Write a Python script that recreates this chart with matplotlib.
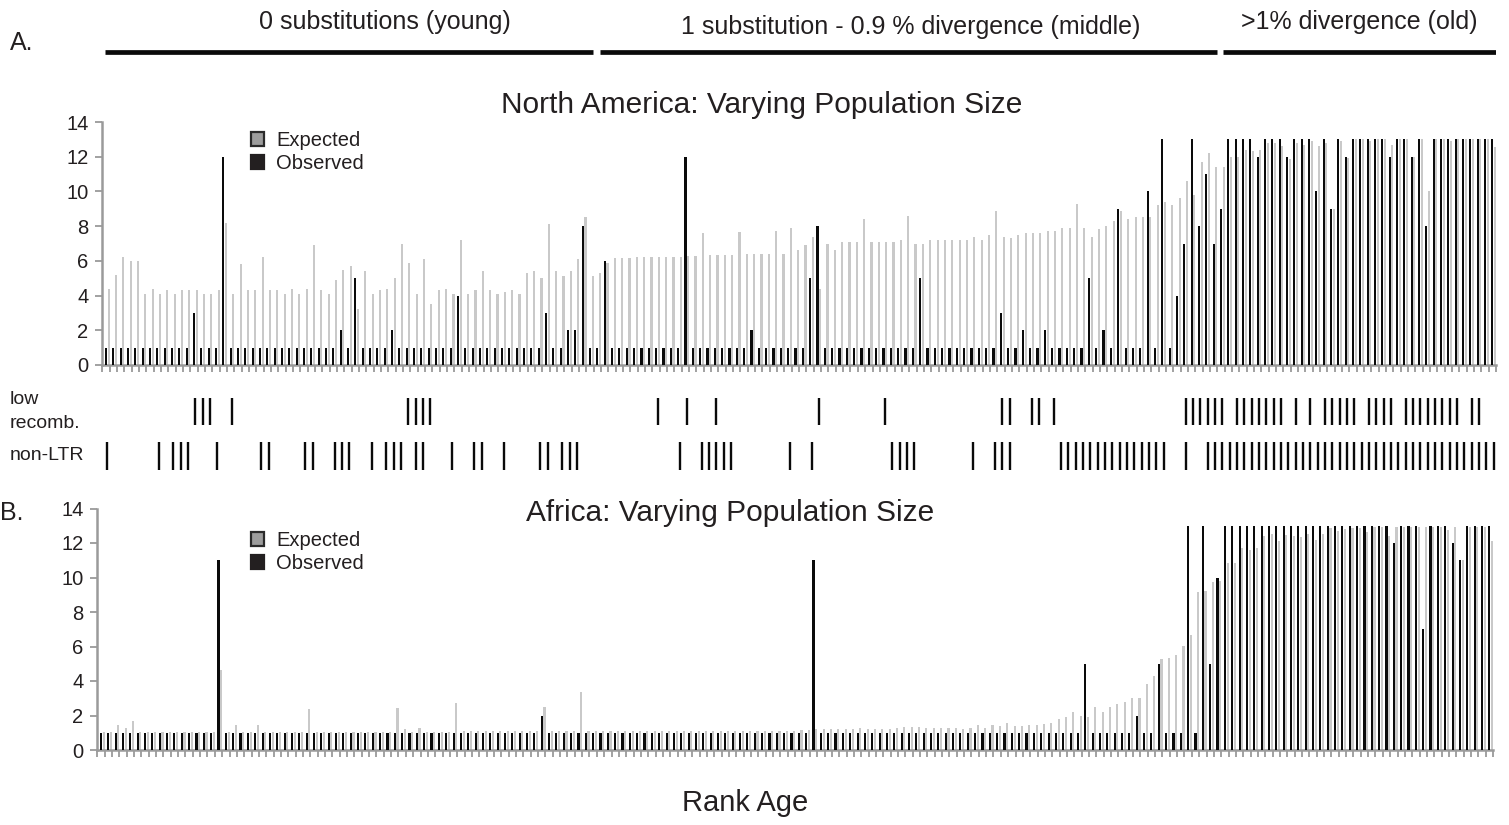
import numpy as np
import matplotlib
matplotlib.use("Agg")
import matplotlib.pyplot as plt
from matplotlib.patches import Patch
from matplotlib.ticker import MultipleLocator, FixedLocator

plt.rcParams['font.family'] = ['Liberation Sans', 'DejaVu Sans']

N = 190
rank = np.arange(N)

# ---------- North America (top) ----------
na_expected = [
    4.4, 5.2, 6.2, 6.0, 6.0, 4.1, 4.4, 4.1, 4.3, 4.1,
    4.3, 4.3, 4.3, 4.1, 4.1, 4.3, 8.2, 4.1, 5.8, 4.3,
    4.3, 6.2, 4.3, 4.3, 4.1, 4.4, 4.1, 4.4, 6.9, 4.3,
    4.1, 4.9, 5.5, 5.7, 3.2, 5.4, 4.1, 4.3, 4.4, 5.0,
    7.0, 5.9, 4.1, 6.1, 3.5, 4.3, 4.4, 4.1, 7.2, 4.1,
    4.3, 5.4, 4.3, 4.1, 4.2, 4.3, 4.1, 5.3, 5.4, 5.0,
    8.1, 5.4, 5.1, 5.4, 6.1, 8.5, 5.1, 5.3, 5.9, 6.15,
    6.15, 6.15, 6.2, 6.2, 6.2, 6.2, 6.2, 6.2, 6.2, 6.3,
    6.3, 7.6, 6.35, 6.35, 6.35, 6.35, 7.65, 6.4, 6.4, 6.4,
    6.4, 7.7, 6.4, 7.9, 6.6, 6.9, 7.4, 4.4, 7.0, 6.6,
    7.1, 7.1, 7.1, 8.4, 7.1, 7.1, 7.1, 7.1, 7.2, 8.6,
    7.0, 7.0, 7.2, 7.2, 7.2, 7.2, 7.2, 7.2, 7.4, 7.2,
    7.5, 8.9, 7.4, 7.3, 7.5, 7.6, 7.6, 7.6, 7.7, 7.7,
    7.9, 7.9, 9.3, 7.9, 7.4, 7.85, 8.0, 8.3, 8.9, 8.4,
    8.5, 8.5, 8.5, 9.2, 9.4, 9.2, 9.65, 10.6, 9.8, 11.7,
    12.2, 11.4, 11.4, 12.0, 12.0, 12.4, 12.35, 12.4, 12.8, 12.8,
    12.6, 11.85, 12.8, 12.7, 12.9, 12.6, 12.8, 9.0, 12.9, 11.9,
    13.0, 13.0, 12.9, 13.0, 13.0, 12.7, 13.0, 13.0, 12.0, 13.0,
    10.0, 13.0, 13.0, 12.9, 13.0, 13.0, 13.0, 13.0, 13.0, 12.55,
]
na_observed = [
    1, 1, 1, 1, 1, 1, 1, 1, 1, 1,
    1, 1, 3, 1, 1, 1, 12, 1, 1, 1,
    1, 1, 1, 1, 1, 1, 1, 1, 1, 1,
    1, 1, 2, 1, 5, 1, 1, 1, 1, 2,
    1, 1, 1, 1, 1, 1, 1, 1, 4, 1,
    1, 1, 1, 1, 1, 1, 1, 1, 1, 1,
    3, 1, 1, 2, 2, 8, 1, 1, 6, 1,
    1, 1, 1, 1, 1, 1, 1, 1, 1, 12,
    1, 1, 1, 1, 1, 1, 1, 1, 2, 1,
    1, 1, 1, 1, 1, 1, 5, 8, 1, 1,
    1, 1, 1, 1, 1, 1, 1, 1, 1, 1,
    1, 5, 1, 1, 1, 1, 1, 1, 1, 1,
    1, 1, 3, 1, 1, 2, 1, 1, 2, 1,
    1, 1, 1, 1, 5, 1, 2, 1, 9, 1,
    1, 1, 10, 1, 13, 1, 4, 7, 13, 8,
    11, 7, 9, 13, 13, 13, 13, 12, 13, 13,
    13, 12, 13, 13, 13, 10, 13, 9, 13, 12,
    13, 13, 13, 13, 13, 12, 13, 13, 12, 13,
    8, 13, 13, 13, 13, 13, 13, 13, 13, 13,
]

# ---------- Africa (bottom) ----------
af_expected = [
    1.05, 1.05, 1.45, 1.3, 1.7, 1.05, 1.05, 1.05, 1.05, 1.05,
    1.05, 1.05, 1.05, 1.05, 1.05, 1.05, 4.65, 1.05, 1.45, 1.05,
    1.05, 1.45, 1.05, 1.05, 1.05, 1.05, 1.05, 1.05, 2.4, 1.05,
    1.05, 1.05, 1.05, 1.05, 1.05, 1.05, 1.05, 1.05, 1.05, 1.05,
    2.45, 1.2, 1.05, 1.3, 1.05, 1.05, 1.05, 1.05, 2.75, 1.1,
    1.1, 1.1, 1.1, 1.1, 1.1, 1.1, 1.1, 1.1, 1.1, 1.1,
    2.5, 1.1, 1.1, 1.1, 1.1, 3.35, 1.1, 1.1, 1.1, 1.1,
    1.1, 1.1, 1.1, 1.1, 1.1, 1.1, 1.1, 1.1, 1.1, 1.1,
    1.1, 1.1, 1.1, 1.1, 1.1, 1.1, 1.1, 1.1, 1.1, 1.1,
    1.1, 1.1, 1.1, 1.1, 1.12, 1.14, 1.16, 1.2, 1.2, 1.2,
    1.2, 1.2, 1.2, 1.25, 1.2, 1.2, 1.2, 1.2, 1.25, 1.33,
    1.33, 1.33, 1.25, 1.25, 1.25, 1.25, 1.25, 1.22, 1.25, 1.45,
    1.3, 1.43, 1.4, 1.57, 1.37, 1.37, 1.43, 1.43, 1.5, 1.57,
    1.8, 1.9, 2.2, 2.0, 1.9, 2.5, 2.2, 2.5, 2.65, 2.8,
    3.0, 3.0, 3.8, 4.3, 5.3, 5.35, 5.5, 6.05, 6.65, 9.15,
    9.2, 9.75, 9.8, 10.85, 10.85, 11.7, 11.6, 11.7, 12.4, 12.5,
    12.1, 12.45, 12.4, 12.35, 12.55, 12.15, 12.5, 12.85, 12.7, 12.8,
    12.85, 12.85, 12.65, 12.9, 12.9, 12.4, 12.9, 12.9, 12.9, 12.9,
    12.9, 12.9, 12.9, 12.75, 12.9, 11.0, 12.9, 12.9, 12.9, 12.1,
]
af_observed = [
    1, 1, 1, 1, 1, 1, 1, 1, 1, 1,
    1, 1, 1, 1, 1, 1, 11, 1, 1, 1,
    1, 1, 1, 1, 1, 1, 1, 1, 1, 1,
    1, 1, 1, 1, 1, 1, 1, 1, 1, 1,
    1, 1, 1, 1, 1, 1, 1, 1, 1, 1,
    1, 1, 1, 1, 1, 1, 1, 1, 1, 1,
    2, 1, 1, 1, 1, 1, 1, 1, 1, 1,
    1, 1, 1, 1, 1, 1, 1, 1, 1, 1,
    1, 1, 1, 1, 1, 1, 1, 1, 1, 1,
    1, 1, 1, 1, 1, 1, 1, 11, 1, 1,
    1, 1, 1, 1, 1, 1, 1, 1, 1, 1,
    1, 1, 1, 1, 1, 1, 1, 1, 1, 1,
    1, 1, 1, 1, 1, 1, 1, 1, 1, 1,
    1, 1, 1, 1, 5, 1, 1, 1, 1, 1,
    1, 2, 1, 1, 5, 1, 1, 1, 13, 1,
    13, 5, 10, 13, 13, 13, 13, 13, 13, 13,
    13, 13, 13, 13, 13, 13, 13, 13, 13, 13,
    13, 13, 13, 13, 13, 13, 12, 13, 13, 13,
    7, 13, 13, 13, 12, 11, 13, 13, 13, 13,
]

# ---------- annotation rows (rank positions) ----------
low_recomb = [12, 13, 14, 17, 41, 42, 43, 44, 75, 79, 83, 97, 106,
              122, 123, 126, 127, 129,
              147, 148, 149, 150, 151, 152,
              154, 155, 156, 157, 158, 159, 160,
              162, 164,
              166, 167, 168, 169, 170,
              172, 173, 174, 175,
              177, 178, 179, 180, 181, 182, 183, 184,
              186, 187]
non_ltr = [0, 7, 9, 10, 11, 15, 21, 22, 27, 28, 31, 32, 33, 36, 38, 39, 40,
           42, 43, 47, 50, 51, 54, 59, 60, 62, 63, 64, 78, 81, 82, 83, 84, 85,
           93, 96, 107, 108, 109, 110, 118, 121, 122, 123] + \
          list(range(130, 145)) + [147] + list(range(150, 190))

# age groups: (label, first rank, last rank)
group_labels = ["0 substitutions (young)",
                "1 substitution - 0.9 % divergence (middle)",
                ">1% divergence (old)"]
group_first = [0, 67, 152]
group_last = [66, 151, 189]

W, H = 1509, 825
fig = plt.figure(figsize=(W / 100, H / 100), dpi=100)

TXT = '#231f20'
AXC = '#9a9a9a'
GRAY = '#c9c9c9'


def fx(px):
    return px / W


def fy(py):
    return 1 - py / H


def panel(rect, exp, obs, title, title_xy):
    ax = fig.add_axes(rect)
    ax.bar(rank, obs, width=0.29, color='#0a0a0a', align='center', zorder=3)
    ax.bar(rank + 0.37, exp, width=0.29, color=GRAY, align='center', zorder=2)
    ax.set_xlim(-0.5, N - 0.5)
    ax.set_ylim(0, 14)
    ax.yaxis.set_major_locator(MultipleLocator(2))
    ax.set_xticks([])
    ax.xaxis.set_minor_locator(FixedLocator(np.arange(N + 1) - 0.5))
    ax.tick_params(axis='x', which='minor', direction='out', length=5,
                   width=1.3, color=AXC)
    ax.tick_params(axis='y', which='major', direction='out', length=5,
                   width=1.3, color=AXC, labelsize=14.5, labelcolor=TXT, pad=5)
    for s in ['top', 'right']:
        ax.spines[s].set_visible(False)
    for s in ['left', 'bottom']:
        ax.spines[s].set_color(AXC)
        ax.spines[s].set_linewidth(1.8)
    fig.text(fx(title_xy[0]), fy(title_xy[1]), title, ha='center', va='center',
             fontsize=21.5, color=TXT)
    return ax


ax1 = panel([fx(102.3), fy(365), fx(1496) - fx(102.3), fy(122) - fy(365)],
            na_expected, na_observed,
            "North America: Varying Population Size", (762, 105))
ax2 = panel([fx(97.3), fy(750), fx(1493) - fx(97.3), fy(508.5) - fy(750)],
            af_expected, af_observed,
            "Africa: Varying Population Size", (730, 513))

handles = [Patch(facecolor='#9d9d9d', edgecolor='#2a2a2a', linewidth=1.6),
           Patch(facecolor='#231f20', edgecolor='#231f20', linewidth=1.6)]
for ax, ytop in [(ax1, 117), (ax2, 517)]:
    ax.legend(handles, ['Expected', 'Observed'], loc='upper left',
              bbox_to_anchor=(fx(237), fy(ytop)), bbox_transform=fig.transFigure,
              frameon=False, fontsize=14.5, handlelength=0.65, handleheight=0.65,
              handletextpad=0.6, labelspacing=0.2, borderpad=0.2,
              labelcolor=TXT)

# annotation rows axis sharing the x scale of the top panel
axr = fig.add_axes([fx(102.3), fy(475), fx(1496) - fx(102.3), fy(385) - fy(475)])
axr.set_xlim(-0.5, N - 0.5)
axr.set_ylim(0, 90)
axr.axis('off')
axr.vlines(np.array(low_recomb) + 0.2, 475 - 425, 475 - 398, color='#0a0a0a', lw=1.7)
axr.vlines(np.array(non_ltr) + 0.2, 475 - 470, 475 - 442, color='#0a0a0a', lw=1.7)

fig.text(fx(10), fy(400), "low", ha='left', va='center', fontsize=14, color=TXT)
fig.text(fx(10), fy(424), "recomb.", ha='left', va='center', fontsize=14, color=TXT)
fig.text(fx(10), fy(455), "non-LTR", ha='left', va='center', fontsize=14, color=TXT)

# header with age-group bars
axh = fig.add_axes([fx(102.3), fy(70), fx(1496) - fx(102.3), fy(0) - fy(70)])
axh.set_xlim(-0.5, N - 0.5)
axh.set_ylim(70, 0)
axh.axis('off')
label_y = [22, 27, 22]
label_x = [385, 911, 1359]
for lab, a, b, ly, lx in zip(group_labels, group_first, group_last, label_y, label_x):
    start = a - 0.15 if a == 0 else a + 0.35
    axh.plot([start, b + 0.45], [52, 52], color='#0a0a0a', lw=3.4,
             solid_capstyle='butt')
    fig.text(fx(lx), fy(ly), lab, ha='center', va='center',
             fontsize=18, color=TXT)

fig.text(fx(10), fy(43), "A.", ha='left', va='center', fontsize=18, color=TXT)
fig.text(fx(0), fy(513), "B.", ha='left', va='center', fontsize=18, color=TXT)
fig.text(fx(745), fy(803), "Rank Age", ha='center', va='center', fontsize=21,
         color=TXT)

fig.savefig("out.png", dpi=100)
